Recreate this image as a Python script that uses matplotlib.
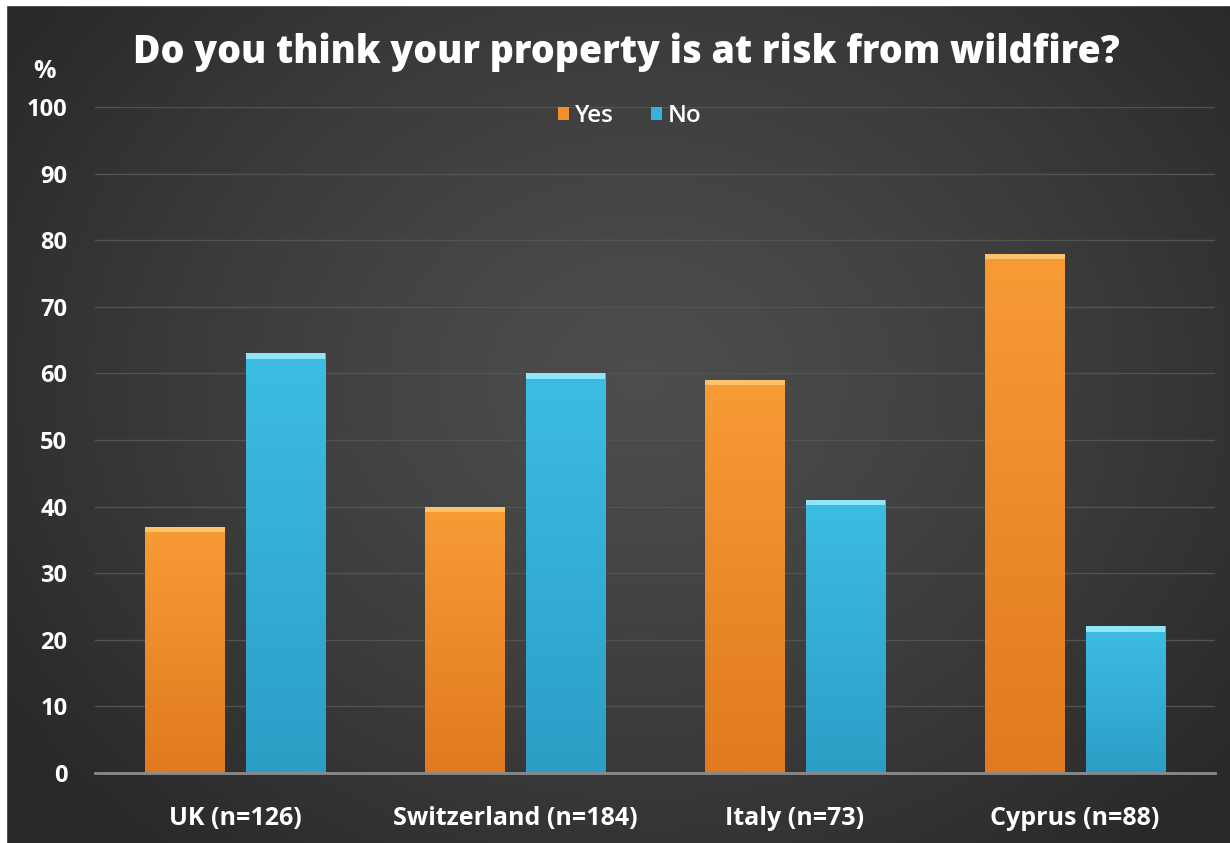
import numpy as np
import matplotlib
matplotlib.use("Agg")
import matplotlib.pyplot as plt
from matplotlib.patches import Rectangle, Patch
from matplotlib.colors import LinearSegmentedColormap

categories = ["UK (n=126)", "Switzerland (n=184)", "Italy (n=73)", "Cyprus (n=88)"]
yes_values = [37, 40, 59, 78]
no_values = [63, 60, 41, 22]
series_names = ["Yes", "No"]
yticks = list(range(0, 101, 10))

plt.rcParams['font.family'] = ['Open Sans', 'DejaVu Sans']

fig = plt.figure(figsize=(12.3, 8.43), dpi=100)

# background radial gradient
bg = fig.add_axes([0, 0, 1, 1], zorder=-10)
W, H = 1230, 843
yy, xx = np.mgrid[0:H, 0:W]
cx, cy = 640, 380
r = np.sqrt(((xx - cx) / 760.0) ** 2 + ((yy - cy) / 620.0) ** 2)
r = np.clip(r, 0, 1)
val = 0.30 - 0.14 * r ** 1.3
img = np.dstack([val, val, val])
bg.imshow(img, extent=(0, W, H, 0), aspect='auto')
bg.add_patch(Rectangle((0, 0), W, 5, color='white', zorder=5))
bg.add_patch(Rectangle((0, 0), 6, H, color='white', zorder=5))
bg.set_xlim(0, W)
bg.set_ylim(H, 0)
bg.axis('off')

ax = fig.add_axes([95 / W, 1 - 773 / H, (1215 - 95) / W, (773 - 107) / H])
ax.patch.set_alpha(0)

x = np.arange(len(categories))
bw = 0.285
off = 0.18
yes_bars = ax.bar(x - off, yes_values, bw, color='#f0902a', zorder=3)
no_bars = ax.bar(x + off, no_values, bw, color='#36b3dc', zorder=3)

def grad_fill(bars, top_col, bot_col, cap_col):
    cmap = LinearSegmentedColormap.from_list('g', [bot_col, top_col])
    g = np.linspace(0, 1, 256).reshape(-1, 1)
    for b in bars:
        x0 = b.get_x(); w = b.get_width(); h = b.get_height()
        im = ax.imshow(g, extent=(x0, x0 + w, 0, h), origin='lower',
                       cmap=cmap, aspect='auto', zorder=4)
        im.set_clip_path(b)
        ax.add_patch(Rectangle((x0, h - 0.8), w, 0.8, color=cap_col,
                               zorder=5, lw=0))

grad_fill(yes_bars, '#f89b35', '#e07a20', '#fcc46a')
grad_fill(no_bars, '#3dbde3', '#2c9ec6', '#8fe6f8')

ax.set_xlim(-0.5, 3.5)
ax.set_ylim(0, 100)
ax.set_yticks(yticks)
ax.set_yticklabels([str(t) for t in yticks], color='white', fontsize=17,
                   fontweight='bold')
ax.set_xticks(x)
ax.set_xticklabels(categories, color='white', fontsize=18, fontweight='bold')
ax.tick_params(axis='both', length=0)
ax.tick_params(axis='y', pad=20)
ax.tick_params(axis='x', pad=24)
ax.grid(axis='y', color='#535353', lw=1, zorder=0)
ax.set_axisbelow(True)
for s in ['top', 'right', 'left']:
    ax.spines[s].set_visible(False)
ax.spines['bottom'].set_color('#8a8a8a')
ax.spines['bottom'].set_linewidth(2)
ax.spines['bottom'].set_zorder(6)

fig.text(626 / W, 1 - 52 / H, "Do you think your property is at risk from wildfire?",
         color='white', fontsize=27, fontweight='heavy', ha='center', va='center')
fig.text(44 / W, 1 - 72 / H, "%", color='white', fontsize=18, fontweight='bold',
         ha='center', va='center')

handles = [Patch(facecolor='#f0902a'), Patch(facecolor='#36b3dc')]
leg = fig.legend(handles, series_names, loc='center', bbox_to_anchor=(630 / W, 1 - 116 / H),
                 ncol=2, frameon=False, fontsize=17.5, handlelength=0.45,
                 handleheight=0.45, handletextpad=0.25, columnspacing=1.5)
for t in leg.get_texts():
    t.set_color('white')
    t.set_fontweight('semibold')

fig.savefig('out.png', dpi=100)
